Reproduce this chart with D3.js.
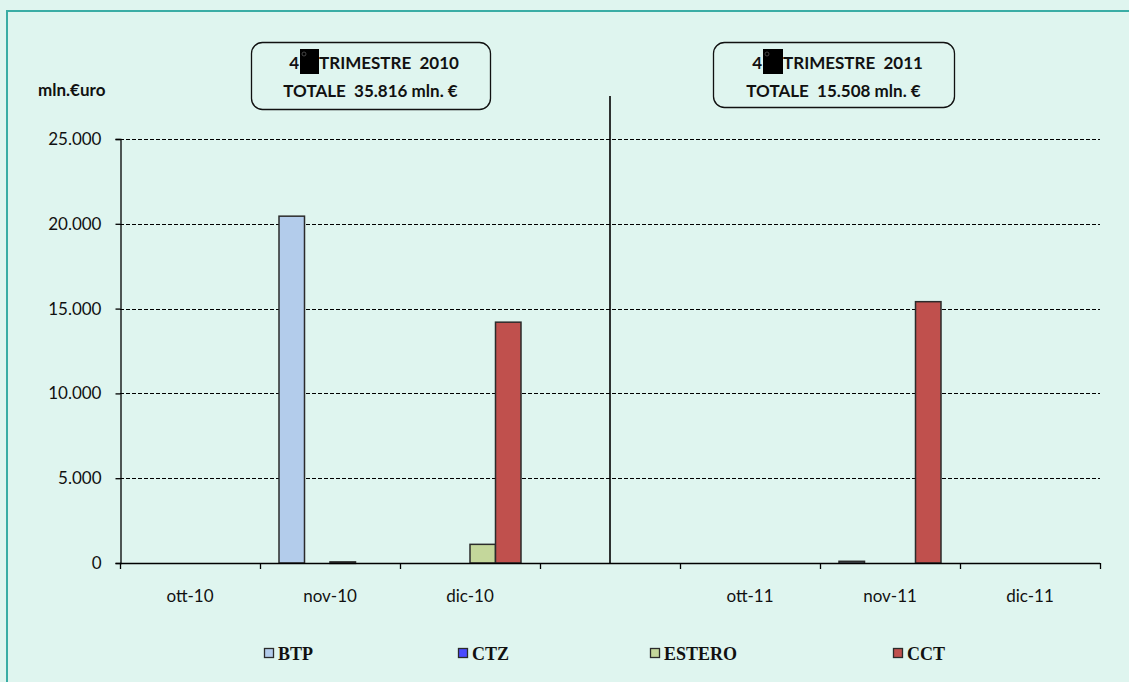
<!DOCTYPE html>
<html><head><meta charset="utf-8">
<script src="https://cdn.jsdelivr.net/npm/d3@7"></script>
<style>html,body{margin:0;padding:0;background:#dff5ef;overflow:hidden}</style>
</head><body>
<svg id="c" width="1129" height="682"></svg>
<script>
// ---- data ----
const categories = ["ott-10", "nov-10", "dic-10", "", "ott-11", "nov-11", "dic-11"];
const seriesNames = ["BTP", "CTZ", "ESTERO", "CCT"];
const BTP    = [0, 20450, 0,    0, 0, 100,   0];
const CTZ    = [0, 0,     0,    0, 0, 0,     0];
const ESTERO = [0, 66,    1100, 0, 0, 0,     0];
const CCT    = [0, 0,     14200,0, 0, 15408, 0];
const yTicks = [0, 5000, 10000, 15000, 20000, 25000];
const boxTitles = [
  {quarter: "4", rest: "TRIMESTRE  2010", total: "TOTALE  35.816 mln. €"},
  {quarter: "4", rest: "TRIMESTRE  2011", total: "TOTALE  15.508 mln. €"}
];

const seriesValues = [BTP, CTZ, ESTERO, CCT];
const colors = ["#b3cceb", "#4a4aff", "#c4d79b", "#c0504d"];

(function () {
const svg = d3.select("#c");
const W = 1129, H = 682;
svg.append("rect").attr("x", 0).attr("y", 0).attr("width", W).attr("height", H).attr("fill", "#dff5ef");
svg.append("rect").attr("x", 7).attr("y", 11).attr("width", 1140).attr("height", 700)
  .attr("fill", "#dff5ef").attr("stroke", "#3aada5").attr("stroke-width", 2);

const pLeft = 120, pRight = 1100, pTop = 139, pBottom = 563;
const x = d3.scaleBand().domain(categories.map((c, i) => i)).range([pLeft, pRight]).padding(0);
const xs = d3.scaleBand().domain(seriesNames).range([19, x.bandwidth() - 19]).padding(0);
const y = d3.scaleLinear().domain([0, 25000]).range([pBottom, pTop]);

const fmt = v => d3.format(",")(v).replace(/,/g, ".");
const sansFont = "Lato, 'Noto Sans', sans-serif";

// gridlines
svg.append("g").selectAll("line").data(yTicks.filter(t => t > 0)).join("line")
  .attr("x1", pLeft).attr("x2", pRight)
  .attr("y1", d => Math.round(y(d)) + 0.5).attr("y2", d => Math.round(y(d)) + 0.5)
  .attr("stroke", "#000").attr("stroke-width", 1).attr("stroke-dasharray", "4,2");

// y axis
const yAxis = d3.axisLeft(y).tickValues(yTicks).tickFormat(fmt).tickSize(5).tickPadding(14);
const gy = svg.append("g").attr("transform", `translate(${pLeft + 0.5},0)`).call(yAxis);
gy.select(".domain").attr("stroke", "#000").attr("stroke-width", 1.3);
gy.selectAll(".tick line").attr("stroke", "#000").attr("stroke-width", 1.3);
gy.selectAll("text").attr("font-family", sansFont).attr("font-size", 17).attr("fill", "#111");

// bars
const bars = [];
categories.forEach((c, i) => {
  seriesNames.forEach((s, j) => {
    const v = seriesValues[j][i];
    if (v > 0) bars.push({i, s, j, v});
  });
});
svg.append("g").selectAll("rect").data(bars).join("rect")
  .attr("x", d => x(d.i) + xs(d.s))
  .attr("y", d => y(d.v))
  .attr("width", xs.bandwidth())
  .attr("height", d => Math.max(1.5, y(0) - y(d.v)))
  .attr("fill", d => colors[d.j])
  .attr("stroke", "#2b2b2b").attr("stroke-width", 1.5);

// divider between the two quarters
svg.append("line")
  .attr("x1", x(3) + x.bandwidth() / 2).attr("x2", x(3) + x.bandwidth() / 2)
  .attr("y1", 96).attr("y2", pBottom)
  .attr("stroke", "#000").attr("stroke-width", 1.6);

// x axis
const xAxis = d3.axisBottom(x).tickFormat(i => categories[i]).tickSize(0).tickPadding(0);
const gx = svg.append("g").attr("transform", `translate(0,${pBottom})`).call(xAxis);
gx.select(".domain").remove();
gx.selectAll(".tick text").attr("font-family", sansFont).attr("font-size", 17).attr("fill", "#111")
  .attr("dy", "0").attr("y", 39);
svg.append("line").attr("x1", pLeft).attr("x2", pRight).attr("y1", pBottom + 0.5).attr("y2", pBottom + 0.5)
  .attr("stroke", "#000").attr("stroke-width", 1.5);
const tickXs = categories.map((c, i) => x(i)).concat([pRight]);
svg.append("g").selectAll("line").data(tickXs).join("line")
  .attr("x1", d => d + 0.5).attr("x2", d => d + 0.5)
  .attr("y1", pBottom).attr("y2", pBottom + 6)
  .attr("stroke", "#000").attr("stroke-width", 1.3);

// unit label
svg.append("text").attr("x", 38).attr("y", 96).text("mln.€uro")
  .attr("font-family", sansFont).attr("font-size", 17).attr("font-weight", "bold").attr("fill", "#111");

// title boxes
const boxes = [
  {x: 251, y: 42, w: 239, h: 67, qx: 299, bx: 300, bw: 19},
  {x: 713, y: 42, w: 241, h: 65, qx: 762, bx: 763, bw: 20}
];
boxes.forEach((b, k) => {
  const g = svg.append("g");
  g.append("rect").attr("x", b.x + 0.5).attr("y", b.y + 0.5).attr("width", b.w).attr("height", b.h)
    .attr("rx", 11).attr("fill", "#dff5ef").attr("stroke", "#111").attr("stroke-width", 1.3);
  g.append("text").attr("x", b.qx).attr("y", 69).attr("text-anchor", "end")
    .attr("font-family", sansFont).attr("font-size", 17).attr("font-weight", "bold").attr("fill", "#111")
    .text(boxTitles[k].quarter);
  g.append("rect").attr("x", b.bx).attr("y", 49).attr("width", b.bw).attr("height", 25).attr("fill", "#000");
  g.append("circle").attr("cx", b.bx + 4).attr("cy", 54).attr("r", 2).attr("fill", "none").attr("stroke", "#555").attr("stroke-width", 0.8);
  g.append("text").attr("x", b.bx + b.bw).attr("y", 69)
    .attr("font-family", sansFont).attr("font-size", 17).attr("font-weight", "bold").attr("fill", "#111")
    .style("white-space", "pre")
    .text(boxTitles[k].rest);
  g.append("text").attr("x", b.x + b.w / 2).attr("y", 97).attr("text-anchor", "middle")
    .attr("font-family", sansFont).attr("font-size", 17).attr("font-weight", "bold").attr("fill", "#111")
    .style("white-space", "pre")
    .text(boxTitles[k].total);
});

// legend
const legendX = [264, 458, 650, 893];
const lg = svg.append("g");
seriesNames.forEach((s, j) => {
  lg.append("rect").attr("x", legendX[j] + 0.5).attr("y", 648.5).attr("width", 9).attr("height", 9)
    .attr("fill", colors[j]).attr("stroke", "#2b2b2b").attr("stroke-width", 1.3);
  lg.append("text").attr("x", legendX[j] + 14).attr("y", 660).text(s)
    .attr("font-family", "'Liberation Serif', 'DejaVu Serif', serif").attr("font-size", 18)
    .attr("font-weight", "bold").attr("fill", "#111");
});
})();
</script>
</body></html>
